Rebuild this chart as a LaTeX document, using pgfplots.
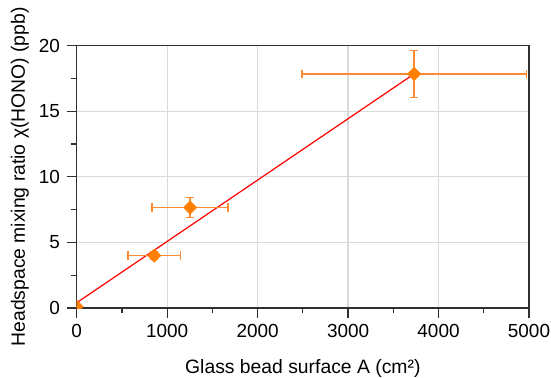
\documentclass[border=0pt]{standalone}
\usepackage{fontspec}
\setmainfont{Liberation Sans}
\usepackage{pgfplots}
\pgfplotsset{compat=1.18}
\definecolor{mkorange}{HTML}{FF7F00}
\definecolor{errorange}{HTML}{FF8A33}
\definecolor{gridgray}{HTML}{DADADA}
\definecolor{framegray}{HTML}{303030}
\begin{document}
\begin{tikzpicture}
\begin{axis}[
  scale only axis,
  width=339.2pt, height=196.7pt,
  xmin=0, xmax=5000, ymin=0, ymax=20,
  xtick={0,1000,...,5000}, ytick={0,5,...,20},
  minor x tick num=1, minor y tick num=1,
  tick pos=left, tick align=outside,
  major tick length=7.5pt, minor tick length=3.9pt,
  every tick/.style={framegray, line width=0.9pt},
  axis line style={framegray, line width=1pt},
  grid=major,
  major grid style={gridgray, line width=0.9pt},
  /pgf/number format/assume math mode=true,
  /pgf/number format/1000 sep={},
  scaled x ticks=false,
  tick label style={font=\fontsize{14.2}{16}\selectfont, text=black},
  xticklabel style={yshift=-1.3pt},
  yticklabel style={xshift=-1.5pt},
  xlabel={Glass bead surface A (cm²)},
  ylabel={Headspace mixing ratio χ(HONO) (ppb)},
  label style={font=\fontsize{14.5}{16}\selectfont},
  xlabel style={at={(axis description cs:0.5,0)}, anchor=center, yshift=-45pt},
  ylabel style={at={(axis description cs:0,0.5)}, anchor=center, rotate=0, yshift=42.5pt},
  clip marker paths=true,
]
\addplot[red, line width=0.9pt, no marks] coordinates {(0,0.4) (3730,17.85)};
\addplot[
  only marks, mark=square*, mark size=3.5pt,
  mark options={fill=mkorange, draw=mkorange, rotate=45},
  error bars/.cd,
    x dir=both, x explicit, y dir=both, y explicit,
    error bar style={errorange, line width=1pt},
    error mark options={errorange, line width=1pt, mark size=3.1pt, rotate=90},
] table[x=x, y=y, x error=ex, y error=ey] {
x y ex ey
0 0.1 0 0
858 4.0 290 0.3
1254 7.66 420 0.78
3730 17.85 1240 1.8
};
\end{axis}
\pgfresetboundingbox
\path[use as bounding box] (-57.5pt,-51.75pt) rectangle (355.7pt,231pt);
\end{tikzpicture}
\end{document}
